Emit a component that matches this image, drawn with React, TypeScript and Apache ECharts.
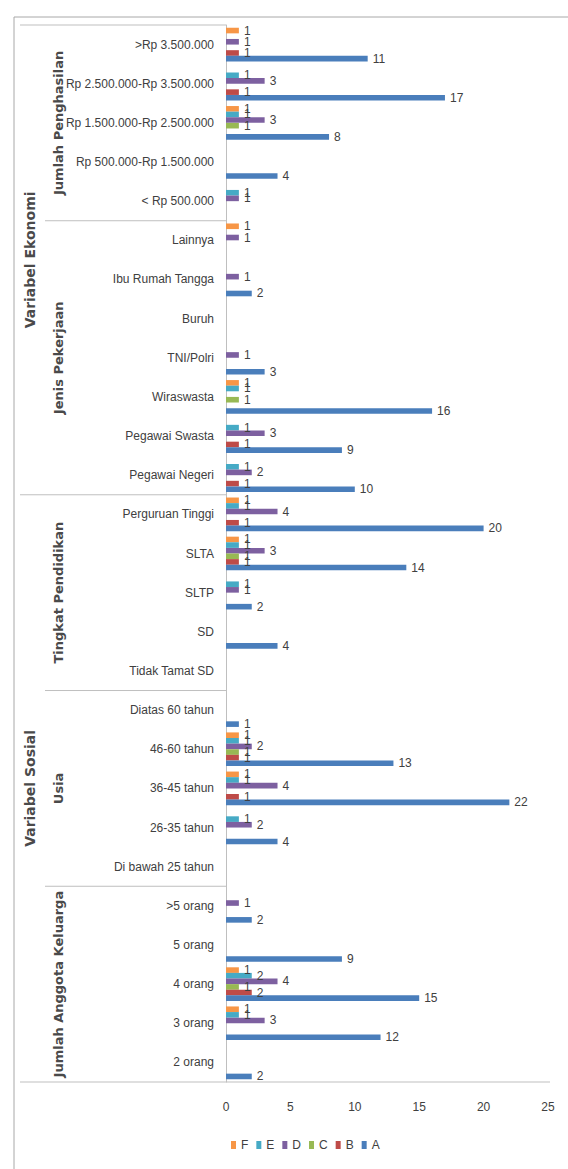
import React, { useEffect, useRef } from "react";
import * as echarts from "echarts";

// Categories from bottom to top
const categories = [
  "2 orang", "3 orang", "4 orang", "5 orang", ">5 orang",
  "Di bawah 25 tahun", "26-35 tahun", "36-45 tahun", "46-60 tahun", "Diatas 60 tahun",
  "Tidak Tamat SD", "SD", "SLTP", "SLTA", "Perguruan Tinggi",
  "Pegawai Negeri", "Pegawai Swasta", "Wiraswasta", "TNI/Polri", "Buruh", "Ibu Rumah Tangga", "Lainnya",
  "< Rp 500.000", "Rp 500.000-Rp 1.500.000", "Rp 1.500.000-Rp 2.500.000", "Rp 2.500.000-Rp 3.500.000", ">Rp 3.500.000",
];

// Sub-groups (bottom to top) with their number of categories
const groupNames = ["Jumlah Anggota Keluarga", "Usia", "Tingkat Pendidikan", "Jenis Pekerjaan", "Jumlah Penghasilan"];
const groupSizes = [5, 5, 5, 7, 5];
// Top-level groups (bottom to top) with the number of sub-groups
const superNames = ["Variabel Sosial", "Variabel Ekonomi"];
const superSizes = [3, 2];

const seriesNames = ["A", "B", "C", "D", "E", "F"];
const _ = null;
const valuesA = [2, 12, 15, 9, 2, _, 4, 22, 13, 1, _, 4, 2, 14, 20, 10, 9, 16, 3, _, 2, _, _, 4, 8, 17, 11];
const valuesB = [_, _, 2, _, _, _, _, 1, 1, _, _, _, _, 1, 1, 1, 1, _, _, _, _, _, _, _, _, 1, 1];
const valuesC = [_, _, 1, _, _, _, _, _, 1, _, _, _, _, 1, _, _, _, 1, _, _, _, _, _, _, 1, _, _];
const valuesD = [_, 3, 4, _, 1, _, 2, 4, 2, _, _, _, 1, 3, 4, 2, 3, _, 1, _, 1, 1, 1, _, 3, 3, 1];
const valuesE = [_, 1, 2, _, _, _, 1, 1, 1, _, _, _, 1, 1, 1, 1, 1, 1, _, _, _, _, 1, _, 1, 1, _];
const valuesF = [_, 1, 1, _, _, _, _, 1, 1, _, _, _, _, 1, 1, _, _, 1, _, _, _, 1, _, _, 1, _, 1];
const seriesValues = [valuesA, valuesB, valuesC, valuesD, valuesE, valuesF];
const colors = ["#4A7EBB", "#BE4B48", "#98B954", "#7D60A0", "#46AAC5", "#F79646"];
const legendOrder = ["F", "E", "D", "C", "B", "A"];
const xTicks = { min: 0, max: 25, interval: 5 };

const W = 568;
const H = 1169;
const GRID = { left: 226, right: 20, top: 25, bottom: 87 };

const NARROW = "'Liberation Sans', Arial, sans-serif";
const WIDE = "'DejaVu Sans', Verdana, sans-serif";

export default function App() {
  const ref = useRef<HTMLDivElement>(null);
  useEffect(() => {
    if (!ref.current) return;
    const chart = echarts.init(ref.current, undefined, { renderer: "svg" });
    const plotTop = GRID.top;
    const plotBottom = H - GRID.bottom;
    const band = (plotBottom - plotTop) / categories.length;
    const lineColor = "#BFBFBF";

    const graphics: any[] = [];
    graphics.push({
      type: "rect", shape: { x: 14, y: 17, width: 600, height: 1200 },
      style: { fill: "none", stroke: "#A8A8A8", lineWidth: 1 }, silent: true,
    });
    graphics.push({ type: "line", shape: { x1: 20, y1: plotBottom, x2: W - GRID.right + 2, y2: plotBottom }, style: { stroke: lineColor, lineWidth: 1 } });
    graphics.push({ type: "line", shape: { x1: 20, y1: plotTop, x2: GRID.left, y2: plotTop }, style: { stroke: lineColor, lineWidth: 1 } });

    let count = 0;
    const groupEdges: number[] = [0];
    groupSizes.forEach((n, i) => {
      const yBottom = plotBottom - count * band;
      count += n;
      const yTop = plotBottom - count * band;
      groupEdges.push(count);
      graphics.push({
        type: "text", x: 58, y: (yTop + yBottom) / 2, rotation: Math.PI / 2,
        style: { text: groupNames[i], font: `bold 13px ${WIDE}`, fill: "#4A4A4A", align: "center", verticalAlign: "middle" },
      });
    });
    let gi = 0;
    const superEdgeIdx: number[] = [];
    superSizes.forEach((n, i) => {
      const startCat = groupEdges[gi];
      gi += n;
      const endCat = groupEdges[gi];
      superEdgeIdx.push(gi);
      const yBottom = plotBottom - startCat * band;
      const yTop = plotBottom - endCat * band;
      graphics.push({
        type: "text", x: 30, y: (yTop + yBottom) / 2, rotation: Math.PI / 2,
        style: { text: superNames[i], font: `bold 14px ${WIDE}`, fill: "#4A4A4A", align: "center", verticalAlign: "middle" },
      });
    });
    for (let k = 1; k < groupEdges.length - 1; k++) {
      const y = plotBottom - groupEdges[k] * band;
      const isSuper = superEdgeIdx.includes(k);
      graphics.push({ type: "line", shape: { x1: isSuper ? 20 : 45, y1: y, x2: GRID.left, y2: y }, style: { stroke: lineColor, lineWidth: 1 } });
    }

    // ECharts stacks horizontal bars top-down in series order: add F first so A sits at the bottom
    const order = [5, 4, 3, 2, 1, 0];

    chart.setOption({
      animation: false,
      backgroundColor: "#ffffff",
      grid: { ...GRID },
      legend: {
        data: legendOrder,
        bottom: 13,
        left: 226,
        itemWidth: 5,
        itemHeight: 8,
        itemGap: 8,
        icon: "rect",
        textStyle: { fontFamily: NARROW, fontSize: 12, color: "#404040" },
      },
      xAxis: {
        type: "value",
        min: xTicks.min, max: xTicks.max, interval: xTicks.interval,
        axisLine: { show: false }, axisTick: { show: false }, splitLine: { show: false },
        axisLabel: { fontFamily: NARROW, fontSize: 12, color: "#404040", margin: 19 },
      },
      yAxis: {
        type: "category",
        data: categories,
        axisLine: { show: true, lineStyle: { color: lineColor } },
        axisTick: { show: false },
        axisLabel: { fontFamily: NARROW, fontSize: 12, color: "#404040", margin: 12, interval: 0 },
      },
      graphic: graphics,
      series: order.map((i) => ({
        name: seriesNames[i],
        type: "bar",
        data: seriesValues[i],
        itemStyle: { color: colors[i] },
        barGap: "0%",
        barCategoryGap: "14%",
        label: { show: true, position: "right", distance: 5, fontFamily: NARROW, fontSize: 12, color: "#404040" },
      })),
    });
    return () => chart.dispose();
  }, []);
  return <div ref={ref} style={{ position: "fixed", left: 0, top: 0, width: W, height: H }} />;
}
